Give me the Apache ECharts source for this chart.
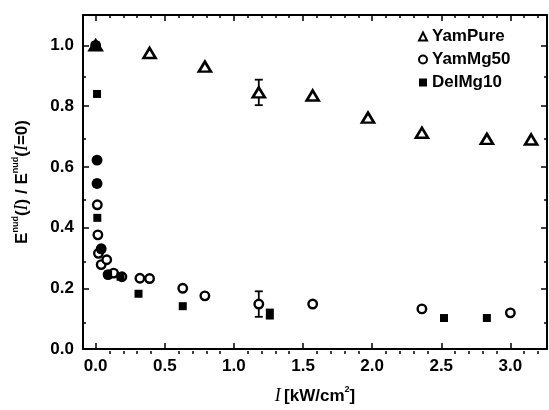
<!DOCTYPE html>
<html><head><meta charset="utf-8">
<script src="https://cdn.jsdelivr.net/npm/echarts@6/dist/echarts.min.js"></script>
<style>html,body{margin:0;padding:0;background:#fff}#c{width:549px;height:410px}</style>
</head><body><div id="c"></div>
<script>
const yamPureX = [0, 0.39, 0.79, 1.18, 1.57, 1.97, 2.36, 2.83, 3.15];
const yamPureY = [1.0, 0.975, 0.93, 0.845, 0.835, 0.762, 0.712, 0.692, 0.69];
const yamMg50X = [0, 0.01, 0.01, 0.012, 0.016, 0.02, 0.04, 0.04, 0.08, 0.09, 0.13, 0.19, 0.32, 0.39, 0.63, 0.79, 1.18, 1.57, 2.36, 3.0];
const yamMg50Y = [1.0, 0.622, 0.545, 0.475, 0.376, 0.315, 0.33, 0.278, 0.294, 0.245, 0.25, 0.238, 0.233, 0.232, 0.2, 0.175, 0.148, 0.148, 0.132, 0.119];
const delMg10X = [0, 0.01, 0.01, 0.01, 0.012, 0.04, 0.09, 0.18, 0.31, 0.63, 1.26, 2.52, 2.83];
const delMg10Y = [1.0, 0.84, 0.622, 0.545, 0.432, 0.33, 0.245, 0.238, 0.182, 0.141, 0.115, 0.102, 0.102];
const errX = [1.18, 1.18, 1.26];
const errY = [0.845, 0.148, 0.115];
const errD = [0.042, 0.042, 0.015];
const xTicks = [0, 0.5, 1.0, 1.5, 2.0, 2.5, 3.0];
const yTicks = [0, 0.2, 0.4, 0.6, 0.8, 1.0];
const xMinor = [0.1, 0.2, 0.3, 0.4, 0.6, 0.7, 0.8, 0.9, 1.1, 1.2, 1.3, 1.4, 1.6, 1.7, 1.8, 1.9, 2.1, 2.2, 2.3, 2.4, 2.6, 2.7, 2.8, 2.9, 3.1, 3.2];
const yMinor = [0.1, 0.3, 0.5, 0.7, 0.9];
const names = ['YamPure', 'YamMg50', 'DelMg10'];

const X_MIN = -0.0916, X_MAX = 3.265, Y_MIN = 0, Y_MAX = 1.1;
const FONT = 'Liberation Sans';
const zip = (a, b) => a.map((v, i) => [v, b[i]]);

const chart = echarts.init(document.getElementById('c'), null, {renderer: 'canvas'});
const gridRect = {left: 83, right: 2, top: 15, bottom: 56};
const lineStyle = {color: '#000', width: 2};

function mainX(pos, withLabel, extra) {
  return Object.assign({
    type: 'value', gridIndex: 0, position: pos, min: X_MIN, max: X_MAX,
    axisLine: {show: true, onZero: false, lineStyle},
    axisTick: {show: true, inside: true, length: 6, customValues: xTicks, lineStyle: {color: '#000', width: 1.5}},
    axisLabel: {show: withLabel, customValues: xTicks, formatter: v => v.toFixed(1), color: '#000',
      fontFamily: FONT, fontWeight: 'bold', fontSize: 17, margin: 9},
    splitLine: {show: false}
  }, extra || {});
}
function mainY(pos, withLabel, extra) {
  return Object.assign({
    type: 'value', gridIndex: 0, position: pos, min: Y_MIN, max: Y_MAX,
    axisLine: {show: true, onZero: false, lineStyle},
    axisTick: {show: true, inside: true, length: 6, customValues: yTicks, lineStyle: {color: '#000', width: 1.5}},
    axisLabel: {show: withLabel, customValues: yTicks, formatter: v => v.toFixed(1), color: '#000',
      fontFamily: FONT, fontWeight: 'bold', fontSize: 17, margin: 9},
    splitLine: {show: false}
  }, extra || {});
}
function minorX(pos) {
  return {type: 'value', gridIndex: 1, position: pos, min: X_MIN, max: X_MAX,
    axisLine: {show: false, onZero: false}, axisLabel: {show: false}, splitLine: {show: false},
    axisTick: {show: true, inside: true, length: 3, customValues: xMinor, lineStyle: {color: '#000', width: 1.5}}};
}
function minorY(pos) {
  return {type: 'value', gridIndex: 1, position: pos, min: Y_MIN, max: Y_MAX,
    axisLine: {show: false, onZero: false}, axisLabel: {show: false}, splitLine: {show: false},
    axisTick: {show: true, inside: true, length: 3, customValues: yMinor, lineStyle: {color: '#000', width: 1.5}}};
}

const nameRich = {
  n: {fontFamily: FONT, fontWeight: 'bold', fontSize: 17, color: '#000', lineHeight: 20, verticalAlign: 'bottom'},
  i: {fontFamily: 'Liberation Serif', fontStyle: 'italic', fontSize: 18, color: '#000', lineHeight: 20, verticalAlign: 'bottom'},
  s: {fontFamily: FONT, fontWeight: 'bold', fontSize: 9, color: '#000', lineHeight: 12, verticalAlign: 'top'}
};

const option = {
  backgroundColor: '#fff',
  animation: false,
  grid: [Object.assign({}, gridRect), Object.assign({}, gridRect)],
  xAxis: [
    mainX('bottom', true, {name: '{i|I} {n|[kW/cm}{s|2}{n|]}', nameLocation: 'middle', nameGap: 36,
      nameTextStyle: {rich: nameRich}}),
    mainX('top', false),
    minorX('bottom'),
    minorX('top')
  ],
  yAxis: [
    mainY('left', true, {name: '{n|E}{s|nud}{n|(}{i|I}{n|) / }{n|E}{s|nud}{n|(}{i|I}{n|=0)}', nameLocation: 'middle', nameGap: 52,
      nameTextStyle: {rich: nameRich}}),
    mainY('right', false),
    minorY('left'),
    minorY('right')
  ],
  legend: {
    orient: 'vertical', left: 413, top: 23, itemWidth: 8, itemHeight: 8, itemGap: 6,
    data: names,
    textStyle: {fontFamily: FONT, fontWeight: 'bold', fontSize: 17, color: '#000'}
  },
  series: [
    {
      type: 'custom', xAxisIndex: 0, yAxisIndex: 0, z: 1,
      data: errX.map((x, i) => [x, errY[i], errD[i]]),
      encode: {x: 0, y: 1},
      renderItem: function (params, api) {
        const x = api.value(0), y = api.value(1), e = api.value(2);
        const p1 = api.coord([x, y + e]), p2 = api.coord([x, y - e]);
        const w = 4;
        const st = {stroke: '#000', lineWidth: 1.8};
        return {type: 'group', children: [
          {type: 'line', shape: {x1: p1[0], y1: p1[1], x2: p2[0], y2: p2[1]}, style: st},
          {type: 'line', shape: {x1: p1[0] - w, y1: p1[1], x2: p1[0] + w, y2: p1[1]}, style: st},
          {type: 'line', shape: {x1: p2[0] - w, y1: p2[1], x2: p2[0] + w, y2: p2[1]}, style: st}
        ]};
      }
    },
    {
      name: names[0], type: 'scatter', xAxisIndex: 0, yAxisIndex: 0, z: 3,
      symbol: 'triangle', symbolSize: [12, 10],
      itemStyle: {color: '#fff', borderColor: '#000', borderWidth: 2.6, opacity: 1},
      data: zip(yamPureX, yamPureY)
    },
    {
      name: names[1], type: 'scatter', xAxisIndex: 0, yAxisIndex: 0, z: 4,
      symbol: 'circle', symbolSize: 8.5,
      itemStyle: {color: '#fff', borderColor: '#000', borderWidth: 2.4, opacity: 1},
      data: zip(yamMg50X, yamMg50Y)
    },
    {
      name: names[2], type: 'scatter', xAxisIndex: 0, yAxisIndex: 0, z: 5,
      symbol: 'rect', symbolSize: 8,
      itemStyle: {color: '#000', borderColor: '#000', borderWidth: 0, opacity: 1},
      data: zip(delMg10X, delMg10Y)
    }
  ]
};
chart.setOption(option);
</script></body></html>
